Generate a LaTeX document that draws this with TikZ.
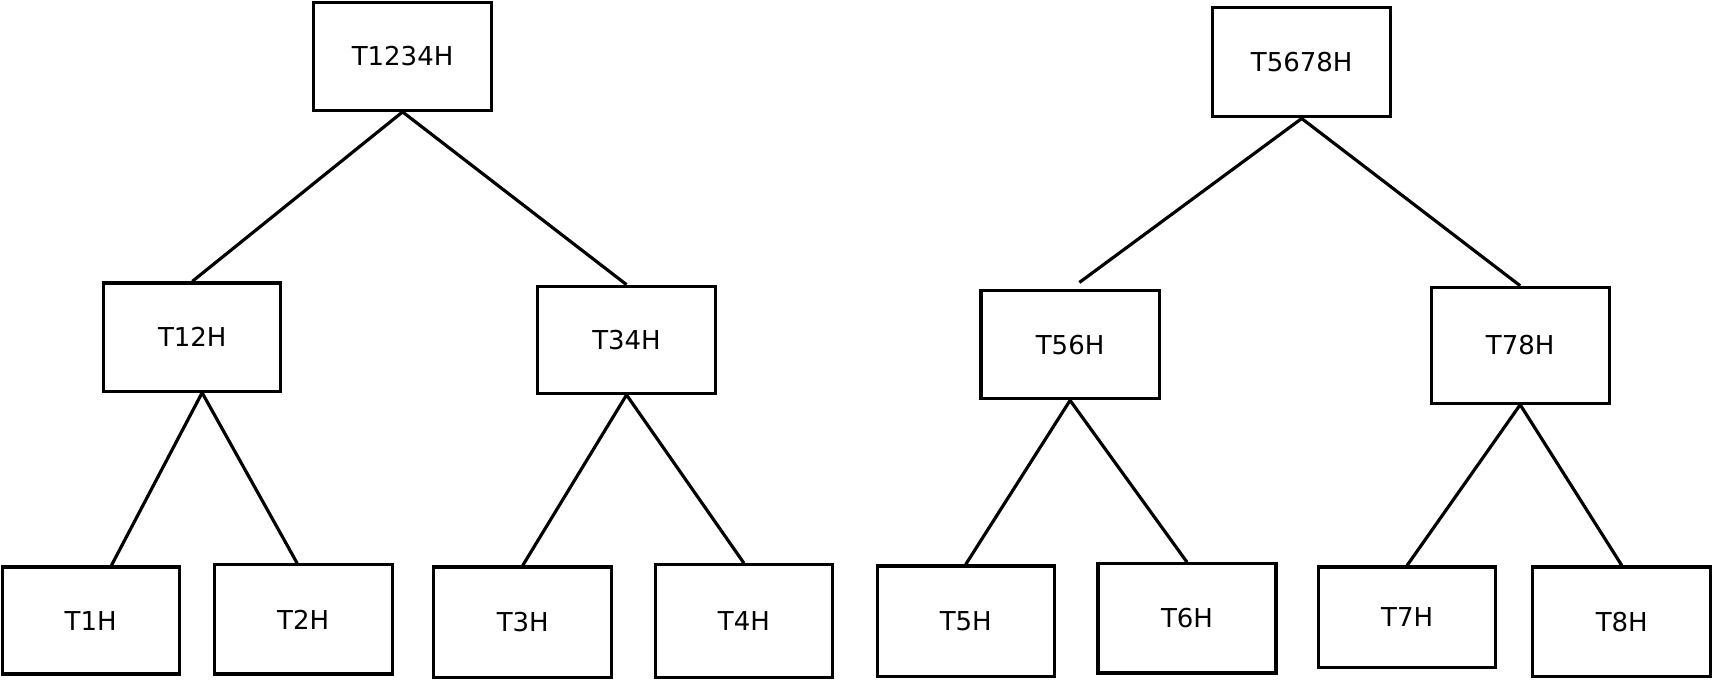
\documentclass[tikz,border=0pt]{standalone}
\usepackage{fontspec}
\setmainfont{DejaVu Sans}
\usetikzlibrary{calc}
\tikzset{
  treebox/.style={draw=black, line width=1.45pt, inner sep=0pt, fill=white,
    font=\fontsize{11.9}{14}\selectfont},
  link/.style={draw=black, line width=1.45pt}
}
\begin{document}
\begin{tikzpicture}[x=0.5pt,y=-0.5pt]
\useasboundingbox[fill=white] (0,0) rectangle (1568,623);
% top level
\node[treebox, minimum width=81.5pt, minimum height=49.5pt] (T1234H) at (368.5,51.5) {T1234H};
\node[treebox, minimum width=81.5pt, minimum height=50pt] (T5678H) at (1191.5,57) {T5678H};
% middle level
\node[treebox, minimum width=81pt, minimum height=49.5pt] (T12H) at (176,308.5) {T12H};
\node[treebox, minimum width=81.5pt, minimum height=49pt] (T34H) at (573.5,311) {T34H};
\node[treebox, minimum width=81.5pt, minimum height=49.5pt] (T56H) at (979.5,315.5) {T56H};
\node[treebox, minimum width=81.5pt, minimum height=53pt] (T78H) at (1391.5,316) {T78H};
% leaves
\node[treebox, minimum width=81pt, minimum height=49pt] (T1H) at (83,568) {T1H};
\node[treebox, minimum width=81.5pt, minimum height=50pt] (T2H) at (277.5,567) {T2H};
\node[treebox, minimum width=81.5pt, minimum height=50.5pt] (T3H) at (478.5,569.5) {T3H};
\node[treebox, minimum width=81pt, minimum height=51.5pt] (T4H) at (681,568.5) {T4H};
\node[treebox, minimum width=81pt, minimum height=50.5pt] (T5H) at (884,568.5) {T5H};
\node[treebox, minimum width=81.5pt, minimum height=50pt] (T6H) at (1086.5,566) {T6H};
\node[treebox, minimum width=81pt, minimum height=46pt] (T7H) at (1288,565) {T7H};
\node[treebox, minimum width=81.5pt, minimum height=50pt] (T8H) at (1484.5,569) {T8H};
% free end of the connector above T56H
\coordinate (c56) at ($(T56H.north)+(8.5,-6)$);
% connectors
\draw[link] (T1234H.south) -- (T12H.north);
\draw[link] (T1234H.south) -- (T34H.north);
\draw[link] (T5678H.south) -- (c56);
\draw[link] (T5678H.south) -- (T78H.north);
\draw[link] ($(T12H.south)+(9,0)$) -- ($(T1H.north)+(19,0)$);
\draw[link] ($(T12H.south)+(9,0)$) -- ($(T2H.north)+(-5.5,0)$);
\draw[link] (T34H.south) -- (T3H.north);
\draw[link] (T34H.south) -- (T4H.north);
\draw[link] (T56H.south) -- (T5H.north);
\draw[link] (T56H.south) -- (T6H.north);
\draw[link] (T78H.south) -- (T7H.north);
\draw[link] (T78H.south) -- (T8H.north);
\end{tikzpicture}
\end{document}
